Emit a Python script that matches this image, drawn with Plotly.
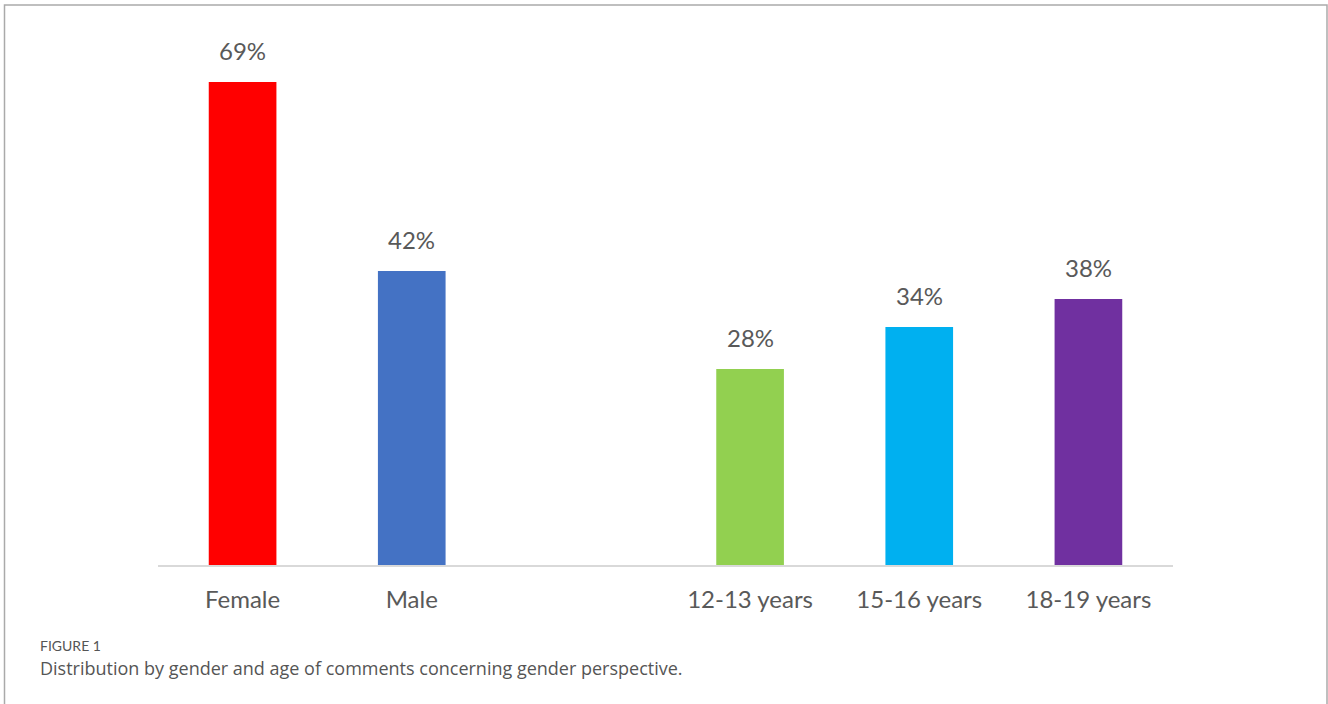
import plotly.graph_objects as go

categories = ["Female", "Male", " ", "12-13 years", "15-16 years", "18-19 years"]
values = [69, 42, None, 28, 34, 38]
labels = ["69%", "42%", "", "28%", "34%", "38%"]
colors = ["#FF0000", "#4472C4", "#FFFFFF", "#92D050", "#00B0F0", "#7030A0"]

W, H = 1328, 704
L, R, T, B = 158, 155, 75, 139
ph = H - T - B
pw = W - L - R

fig = go.Figure()
fig.add_trace(go.Bar(
    x=categories, y=values, marker=dict(color=colors, line=dict(width=0)),
    hoverinfo="skip", showlegend=False,
))

annotations = []
for c, v, t in zip(categories, values, labels):
    if v is None:
        continue
    annotations.append(dict(
        x=c, y=v, xref="x", yref="y", text=t, showarrow=False,
        yanchor="bottom", yshift=15,
        font=dict(family="Lato", size=24, color="#595959"),
    ))

def px_to_paper_x(px):
    return (px - L) / pw

def px_to_paper_y(py):
    return (H - B - py) / ph

annotations.append(dict(
    x=px_to_paper_x(38), y=px_to_paper_y(645), xref="paper", yref="paper",
    xanchor="left", yanchor="middle", showarrow=False, text="FIGURE 1",
    font=dict(family="Lato", size=14, color="#555555"),
))
annotations.append(dict(
    x=px_to_paper_x(38), y=px_to_paper_y(668), xref="paper", yref="paper",
    xanchor="left", yanchor="middle", showarrow=False,
    text="Distribution by gender and age of comments concerning gender perspective.",
    font=dict(family="Open Sans", size=18, color="#555555"),
))

fig.update_layout(
    width=W, height=H,
    margin=dict(l=L, r=R, t=T, b=B),
    paper_bgcolor="white", plot_bgcolor="white",
    bargap=0.6,
    annotations=annotations,
    shapes=[dict(
        type="rect", xref="paper", yref="paper",
        x0=px_to_paper_x(4.5), x1=px_to_paper_x(1327),
        y0=px_to_paper_y(715), y1=px_to_paper_y(5),
        line=dict(color="#AAAAAA", width=1.5), fillcolor="rgba(0,0,0,0)",
        layer="below",
    )],
    xaxis=dict(
        type="category", showline=True, linecolor="#D9D9D9", linewidth=2,
        showgrid=False, ticks="", ticklabelstandoff=12,
        tickfont=dict(family="Lato", size=24, color="#595959"),
    ),
    yaxis=dict(range=[0, 70], visible=False, showgrid=False, zeroline=False),
)

fig.write_html("out.html")
